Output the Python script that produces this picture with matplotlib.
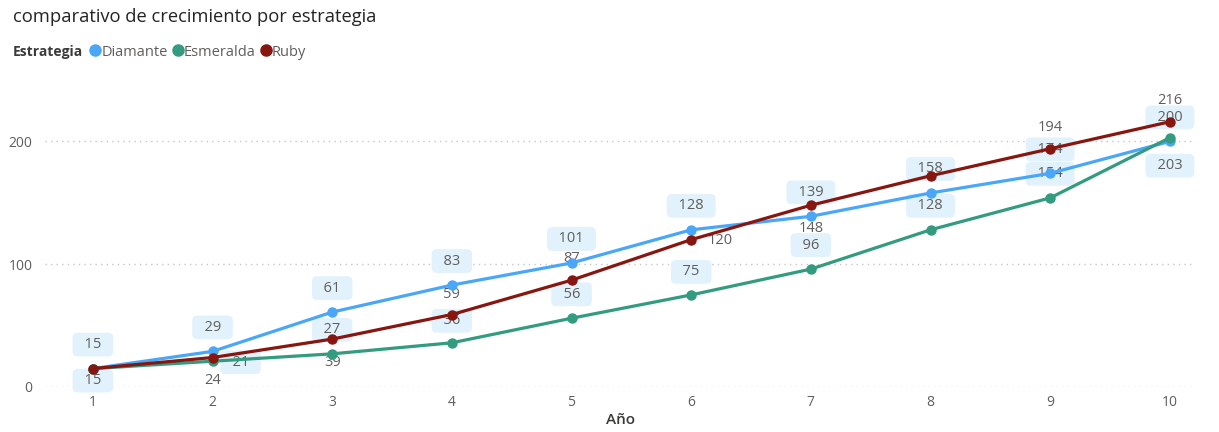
import matplotlib
matplotlib.use('Agg')
import matplotlib.pyplot as plt
from matplotlib.lines import Line2D

# data
years = [1, 2, 3, 4, 5, 6, 7, 8, 9, 10]
diamante = [15, 29, 61, 83, 101, 128, 139, 158, 174, 200]
esmeralda = [15, 21, 27, 36, 56, 75, 96, 128, 154, 203]
ruby = [15, 24, 39, 59, 87, 120, 148, 172, 194, 216]
series_names = ['Diamante', 'Esmeralda', 'Ruby']

plt.rcParams['font.family'] = ['Open Sans', 'DejaVu Sans']

colors = {'Diamante': '#4AA6F7', 'Esmeralda': '#339B7F', 'Ruby': '#86160F'}
text_gray = '#605E5C'
box_fc = '#E2F2FC'

# label placement (pixel offsets from the point, None = hidden), and whether boxed
label_offsets = {
    'Diamante': [(0, 24)] * 10,
    'Esmeralda': [(0, -12), (28, -1), (0, 24), (0, 22), (0, 24), (0, 23),
                  (0, 24), (0, 24), (0, 24), (0, -28)],
    'Ruby': [None, (0, -23), (0, -23), (0, 20), (0, 22), (29, -1),
             (0, -23), None, (0, 21), (0, 21)],
}
boxed = {'Diamante': True, 'Esmeralda': True, 'Ruby': False}

fig = plt.figure(figsize=(12.19, 4.32), dpi=100)
fig.patch.set_facecolor('white')
ax = fig.add_axes([45 / 1219, 45 / 432, 1150 / 1219, 307 / 432])

values = {'Diamante': diamante, 'Esmeralda': esmeralda, 'Ruby': ruby}
for name in series_names:
    ax.plot(years, values[name], color=colors[name], lw=2.3, marker='o', ms=6.5,
            zorder=4 if name == 'Ruby' else 3, solid_capstyle='round')
    for x, v, off in zip(years, values[name], label_offsets[name]):
        if off is None:
            continue
        kw = {}
        txt = str(v)
        if boxed[name]:
            txt = f'  {v}  '
            kw['bbox'] = dict(boxstyle='round,pad=0.3,rounding_size=0.35', fc=box_fc, ec='none')
        ax.annotate(txt, (x, v), xytext=off, textcoords='offset pixels',
                    ha='center', va='center', fontsize=10.5, color=text_gray,
                    zorder=2, **kw)

ax.set_xlim(0.6, 10.21)
ax.set_ylim(0, 250)
ax.set_xticks(years)
ax.set_yticks([0, 100, 200])
ax.tick_params(length=0, labelsize=10, colors=text_gray)
ax.tick_params(axis='y', pad=9)
ax.tick_params(axis='x', pad=6)
for s in ax.spines.values():
    s.set_visible(False)
ax.grid(axis='y', color='#C8C6C4', linestyle=(0, (1, 3)), lw=1)
ax.set_axisbelow(True)
ax.set_xlabel('Año', fontsize=11, fontweight='semibold', color='#3B3A39', labelpad=2)

fig.text(13 / 1219, 1 - 17 / 432, 'comparativo de crecimiento por estrategia',
         fontsize=13.2, color='#252423', va='center', ha='left')
fig.text(13 / 1219, 1 - 52 / 432, 'Estrategia', fontsize=10, fontweight='bold',
         color='#3B3A39', va='center', ha='left')
handles = [Line2D([], [], marker='o', ls='none', ms=8, color=colors[n]) for n in series_names]
fig.legend(handles, series_names, loc='center left', bbox_to_anchor=(88 / 1219, 1 - 52 / 432),
           ncol=3, frameon=False, handletextpad=-0.1, columnspacing=0.2, handlelength=1.0,
           borderpad=0, borderaxespad=0, fontsize=10.5, labelcolor=text_gray)

fig.savefig('out.png', dpi=100)
